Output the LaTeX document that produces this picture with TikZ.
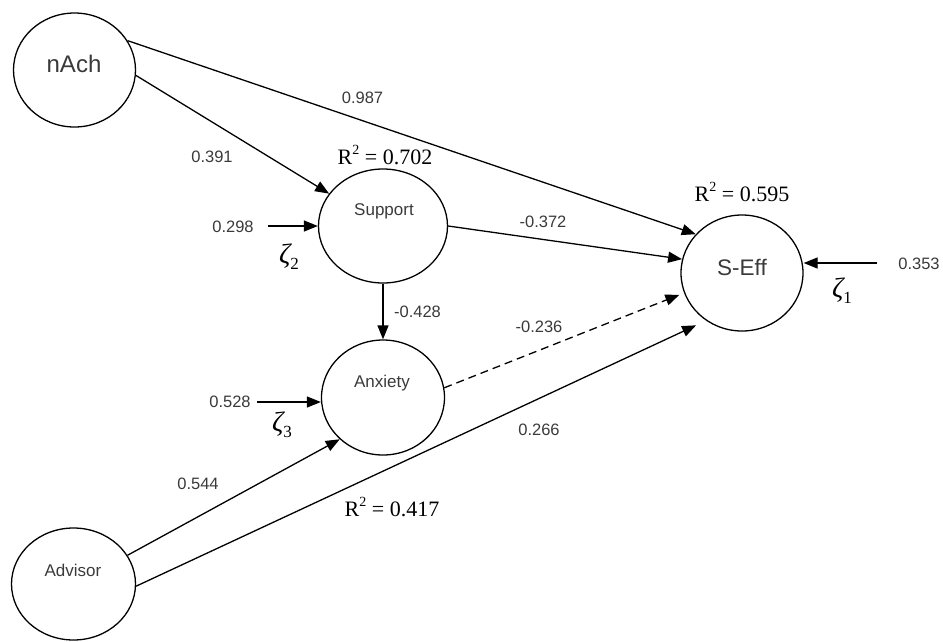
\documentclass[tikz,border=0pt]{standalone}
\usepackage{fontspec}
\setmainfont{Liberation Sans}
\newfontfamily\serifgr{Liberation Serif}
\usetikzlibrary{shapes.geometric,arrows.meta}
\definecolor{txtgray}{HTML}{3A3A3A}
\newcommand{\rsqtext}[1]{R\raisebox{0.42em}{\fontsize{14}{16}\selectfont 2}\hspace{0.25em}=\hspace{0.25em}#1}
\newcommand{\zetatext}[1]{{\itshape ζ}\raisebox{-0.22em}{\fontsize{17}{19}\selectfont #1}}
\tikzset{
  latent/.style={draw=black, line width=1.3pt, ellipse, inner sep=0pt},
  vname/.style={text=txtgray, font=\fontsize{17}{20}\selectfont, inner sep=0pt},
  coef/.style={text=txtgray, font=\fontsize{16.5}{19}\selectfont, inner sep=0pt},
  rsq/.style={text=black, font=\serifgr\fontsize{22}{26}\selectfont, inner sep=0pt, anchor=base},
  zeta/.style={text=black, font=\serifgr\fontsize{28}{31}\selectfont, inner sep=0pt},
  path/.style={line width=1.3pt, -{Triangle[length=14pt,width=11pt]}},
  dpath/.style={path, dash pattern=on 8pt off 5pt},
}
\begin{document}
\begin{tikzpicture}[x=1pt,y=-1pt]
\useasboundingbox (0,0) rectangle (943,641);
% latent variables
\node[latent, minimum width=122pt, minimum height=114pt] (nAch) at (74.5,70) {};
\node[latent, minimum width=129pt, minimum height=114pt] (Support) at (383,226) {};
\node[latent, minimum width=123pt, minimum height=115pt] (Anxiety) at (383,397.5) {};
\node[latent, minimum width=124pt, minimum height=112pt] (Advisor) at (73.5,584) {};
\node[latent, minimum width=122pt, minimum height=116pt] (SEff) at (742,273) {};
% names
\node[vname, font=\fontsize{24}{28}\selectfont] (tnAch) at (74,64) {nAch};
\node[vname] (tSupport) at (384,211) {Support};
\node[vname] (tAnxiety) at (382,383) {Anxiety};
\node[vname] (tAdvisor) at (73,570) {Advisor};
\node[vname, font=\fontsize{22.5}{26}\selectfont] (tSEff) at (742,267) {S-Eff};
% disturbance sources
\coordinate (z2) at (268,226);
\coordinate (z3) at (257,402);
\coordinate (z1) at (877,263);
% paths
\draw[path] (nAch.29) -- (SEff.140.6);
\draw[path] (nAch.-5.6) -- (Support.149.3);
\draw[path] (Support.east) -- (SEff.167);
\draw[path] (Support.south) -- (Anxiety.north);
\draw[dpath, shorten >=5pt] (Anxiety.9) -- (SEff.199.4);
\draw[path] (Advisor.28) -- (Anxiety.224.3);
\draw[path, shorten >=11pt] (Advisor.-2) -- (SEff.233.2);
\draw[path] (z2) -- (Support.west);
\draw[path] (z3) -- (z3 -| Anxiety.west);
\draw[path] (z1) -- (z1 -| SEff.east);
% coefficients
\node[coef] (c987) at (362.5,98) {0.987};
\node[coef] (c391) at (212,157) {0.391};
\node[coef] (c298) at (233,227) {0.298};
\node[coef] (c428) at (417.5,312) {-0.428};
\node[coef] (c372) at (543,222) {-0.372};
\node[coef] (c236) at (539,327) {-0.236};
\node[coef] (c266) at (539,430) {0.266};
\node[coef] (c528) at (230,402) {0.528};
\node[coef] (c544) at (198,484) {0.544};
\node[coef] (c353) at (919,264) {0.353};
% R squared
\node[rsq] (r702) at (385,164) {\rsqtext{0.702}};
\node[rsq] (r595) at (742,201) {\rsqtext{0.595}};
\node[rsq] (r417) at (392,516) {\rsqtext{0.417}};
% zetas
\node[zeta] (zeta2) at (289,257) {\zetatext{2}};
\node[zeta] (zeta3) at (282,425) {\zetatext{3}};
\node[zeta] (zeta1) at (842,291) {\zetatext{1}};
\end{tikzpicture}
\end{document}
